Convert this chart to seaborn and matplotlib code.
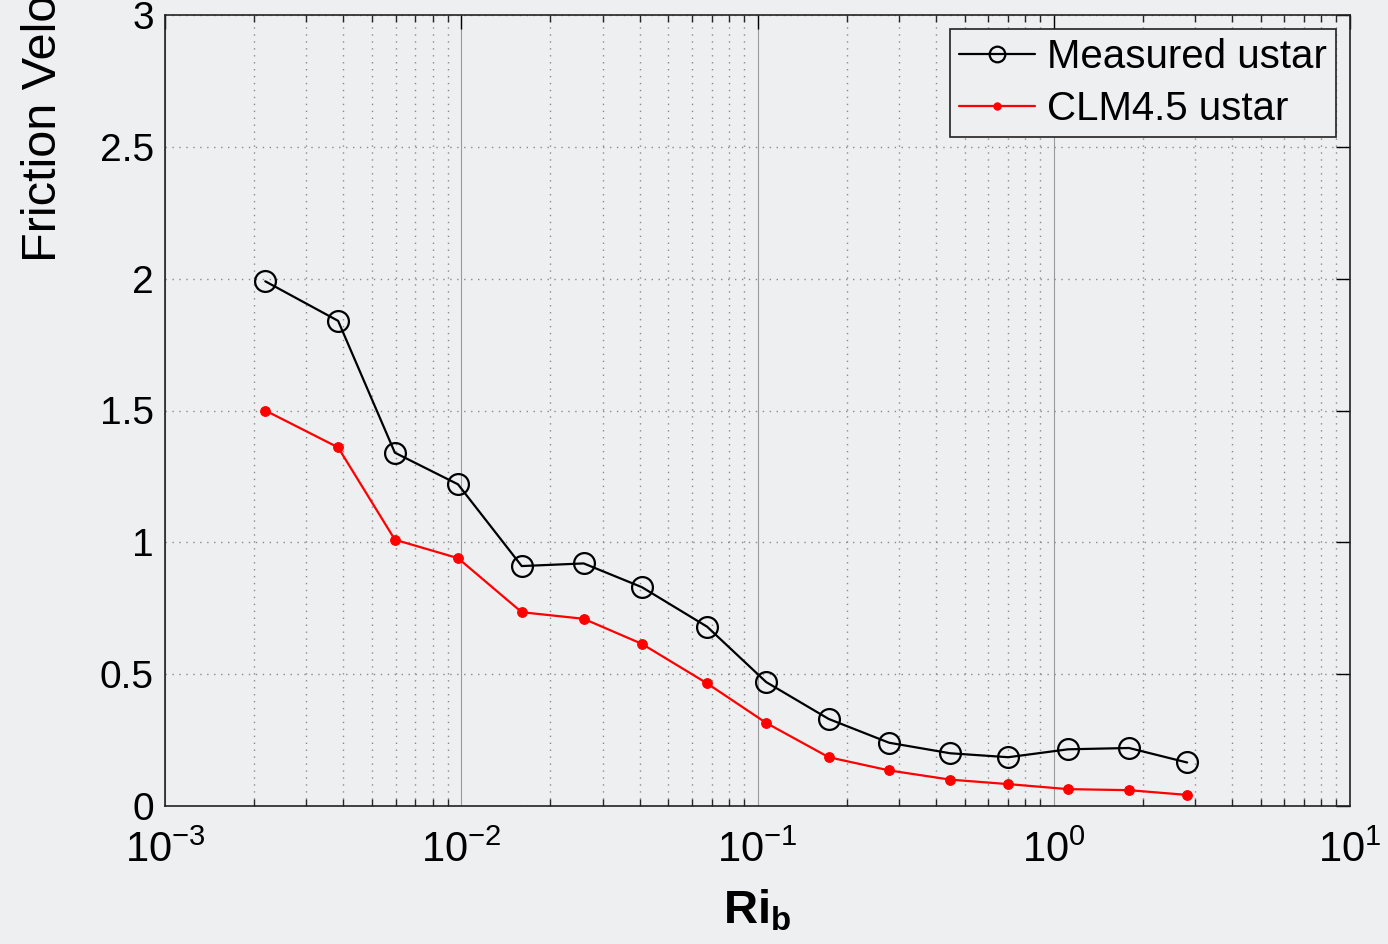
import numpy as np
import pandas as pd
import matplotlib
matplotlib.use("Agg")
import matplotlib.pyplot as plt
import seaborn as sns
from matplotlib.ticker import LogLocator

# ---- data ----
ri_b = [0.00218, 0.00384, 0.00597, 0.00975, 0.0160, 0.0259, 0.0407, 0.0676,
        0.107, 0.174, 0.278, 0.447, 0.702, 1.117, 1.795, 2.82]
measured_ustar = [1.99, 1.84, 1.34, 1.22, 0.91, 0.92, 0.83, 0.68,
                  0.47, 0.33, 0.24, 0.20, 0.185, 0.215, 0.22, 0.165]
clm_ustar = [1.50, 1.36, 1.01, 0.94, 0.735, 0.71, 0.615, 0.465,
             0.315, 0.185, 0.135, 0.10, 0.083, 0.064, 0.06, 0.042]
series_names = ["Measured ustar", "CLM4.5 ustar"]
y_ticks = [0, 0.5, 1, 1.5, 2, 2.5, 3]
y_tick_labels = ["0", "0.5", "1", "1.5", "2", "2.5", "3"]
x_ticks = [1e-3, 1e-2, 1e-1, 1e0, 1e1]
x_tick_labels = [r"$10^{-3}$", r"$10^{-2}$", r"$10^{-1}$", r"$10^{0}$", r"$10^{1}$"]

bg = "#eeeff1"
sns.set_style("white")
plt.rcParams["font.family"] = ["Liberation Sans", "DejaVu Sans"]
plt.rcParams["text.color"] = "black"
plt.rcParams["axes.labelcolor"] = "black"
plt.rcParams["mathtext.fontset"] = "custom"
plt.rcParams["mathtext.rm"] = "Liberation Sans"
plt.rcParams["mathtext.it"] = "Liberation Sans:italic"
plt.rcParams["mathtext.bf"] = "Liberation Sans:bold"
plt.rcParams["mathtext.default"] = "regular"

fig = plt.figure(figsize=(13.88, 9.44), dpi=100, facecolor=bg)
ax = fig.add_axes([165/1388, 1-806/944, (1350-165)/1388, (806-15)/944])
ax.set_facecolor(bg)

df = pd.DataFrame({"x": ri_b, series_names[0]: measured_ustar, series_names[1]: clm_ustar})

sns.lineplot(data=df, x="x", y=series_names[0], ax=ax, color="black", lw=1.6,
             marker="o", markersize=15, markerfacecolor="none",
             markeredgecolor="black", markeredgewidth=1.6, label=series_names[0])
sns.lineplot(data=df, x="x", y=series_names[1], ax=ax, color="#ff0000", lw=1.6,
             marker="o", markersize=7, markerfacecolor="#ff0000",
             markeredgecolor="#ff0000", label=series_names[1])

ax.set_xscale("log")
ax.set_xlim(1e-3, 1e1)
ax.set_ylim(0, 3)
ax.set_yticks(y_ticks)
ax.set_yticklabels(y_tick_labels)
ax.set_xticks(x_ticks)
ax.set_xticklabels(x_tick_labels)
ax.xaxis.set_minor_locator(LogLocator(base=10, subs=np.arange(2, 10), numticks=100))

# grid
ax.grid(True, which="major", axis="x", color="#9a9a9a", lw=0.8, ls="-")
ax.grid(True, which="minor", axis="x", color="#8a8a8a", lw=1.0, ls=(0, (1, 4)))
ax.grid(True, which="major", axis="y", color="#8a8a8a", lw=1.0, ls=(0, (1, 4)))
ax.set_axisbelow(True)

for s in ax.spines.values():
    s.set_visible(True)
    s.set_color("#222222")
    s.set_linewidth(1.2)

ax.tick_params(axis="both", which="major", direction="in", length=10, width=1,
               top=True, right=True, labelsize=28, colors="black")
ax.tick_params(axis="x", which="major", labelsize=30, pad=18)
ax.tick_params(axis="x", which="minor", direction="in", length=5, width=1,
               top=True, bottom=True)
ax.tick_params(axis="y", pad=8)

ax.set_xlabel(r"$\mathbf{Ri_b}$", fontsize=34, labelpad=12, color="black")
ax.set_ylabel("")
fig.text(44/1388, 1-262/944, "Friction Velocity (m/s)", rotation=90,
         ha="center", va="bottom", fontsize=35, color="black")

leg = ax.legend(loc="upper right", fontsize=29, frameon=True, fancybox=False,
                borderpad=0.22, handlelength=1.9, handletextpad=0.3,
                labelspacing=0.35, borderaxespad=0.35, framealpha=1,
                markerscale=0.75)
leg.get_frame().set_edgecolor("#222222")
leg.get_frame().set_facecolor(bg)
leg.get_frame().set_linewidth(1.2)
for t in leg.get_texts():
    t.set_color("black")

fig.savefig("out.png", dpi=100, facecolor=bg)
